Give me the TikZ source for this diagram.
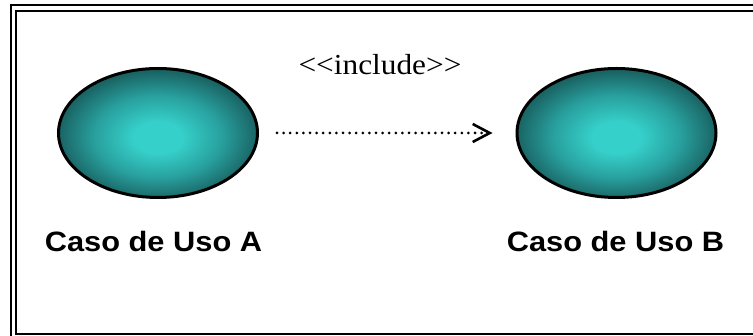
\documentclass[tikz,border=0pt]{standalone}
\usepackage{fontspec}
\setmainfont{Liberation Serif}
\newfontfamily\labelfont{Liberation Sans}
\usetikzlibrary{shapes.geometric,arrows.meta}

\definecolor{tealdark}{RGB}{26,100,100}
\definecolor{tealmid}{RGB}{40,160,158}
\definecolor{teallight}{RGB}{54,208,202}

% soft radial fill for the use-case ellipses
\pgfdeclareradialshading{ucfill}{\pgfpoint{0bp}{-2bp}}{%
  color(0bp)=(teallight); color(6bp)=(teallight);
  color(16bp)=(tealmid); color(25bp)=(tealdark); color(50bp)=(tealdark)}

\tikzset{
  usecase/.style={ellipse, draw=black, line width=3pt, shading=ucfill,
    minimum width=199pt, minimum height=129pt, inner sep=0pt},
  caselabel/.style={anchor=base, inner sep=0pt,
    font=\labelfont\bfseries\fontsize{28}{32}\selectfont},
  stereotype/.style={anchor=base, inner sep=0pt,
    font=\fontsize{29}{34}\selectfont},
  dotline/.style={line width=3pt, line cap=round,
    dash pattern=on 0pt off 6.6pt,
    -{Straight Barb[length=17pt, width=18pt, line width=2.6pt]}},
  frameline/.style={line width=2pt, draw=black}
}

\begin{document}
\begin{tikzpicture}[x=1pt, y=-1pt]
  \useasboundingbox (0,0) rectangle (753,336);
  \clip (0,0) rectangle (753,336);

  % double frame
  \draw[frameline] (11.2,5.3) rectangle (770,350);
  \draw[frameline] (16.2,10.8) rectangle (765,334);

  % use cases
  \node[usecase] (A) at (158,133) {};
  \node[usecase] (B) at (616.5,133) {};

  % include relation
  \draw[dotline, shorten <=18pt, shorten >=23pt] (A) -- (B);
  \node[stereotype] (inc) at (380,75)
    {\scalebox{1.08}[1]{<\kern0pt<include>\kern0pt>}};

  % labels
  \node[caselabel] (la) at (153.5,251.7) {\scalebox{1.1}[1]{Caso de Uso A}};
  \node[caselabel] (lb) at (615.5,251.7) {\scalebox{1.1}[1]{Caso de Uso B}};
\end{tikzpicture}
\end{document}
